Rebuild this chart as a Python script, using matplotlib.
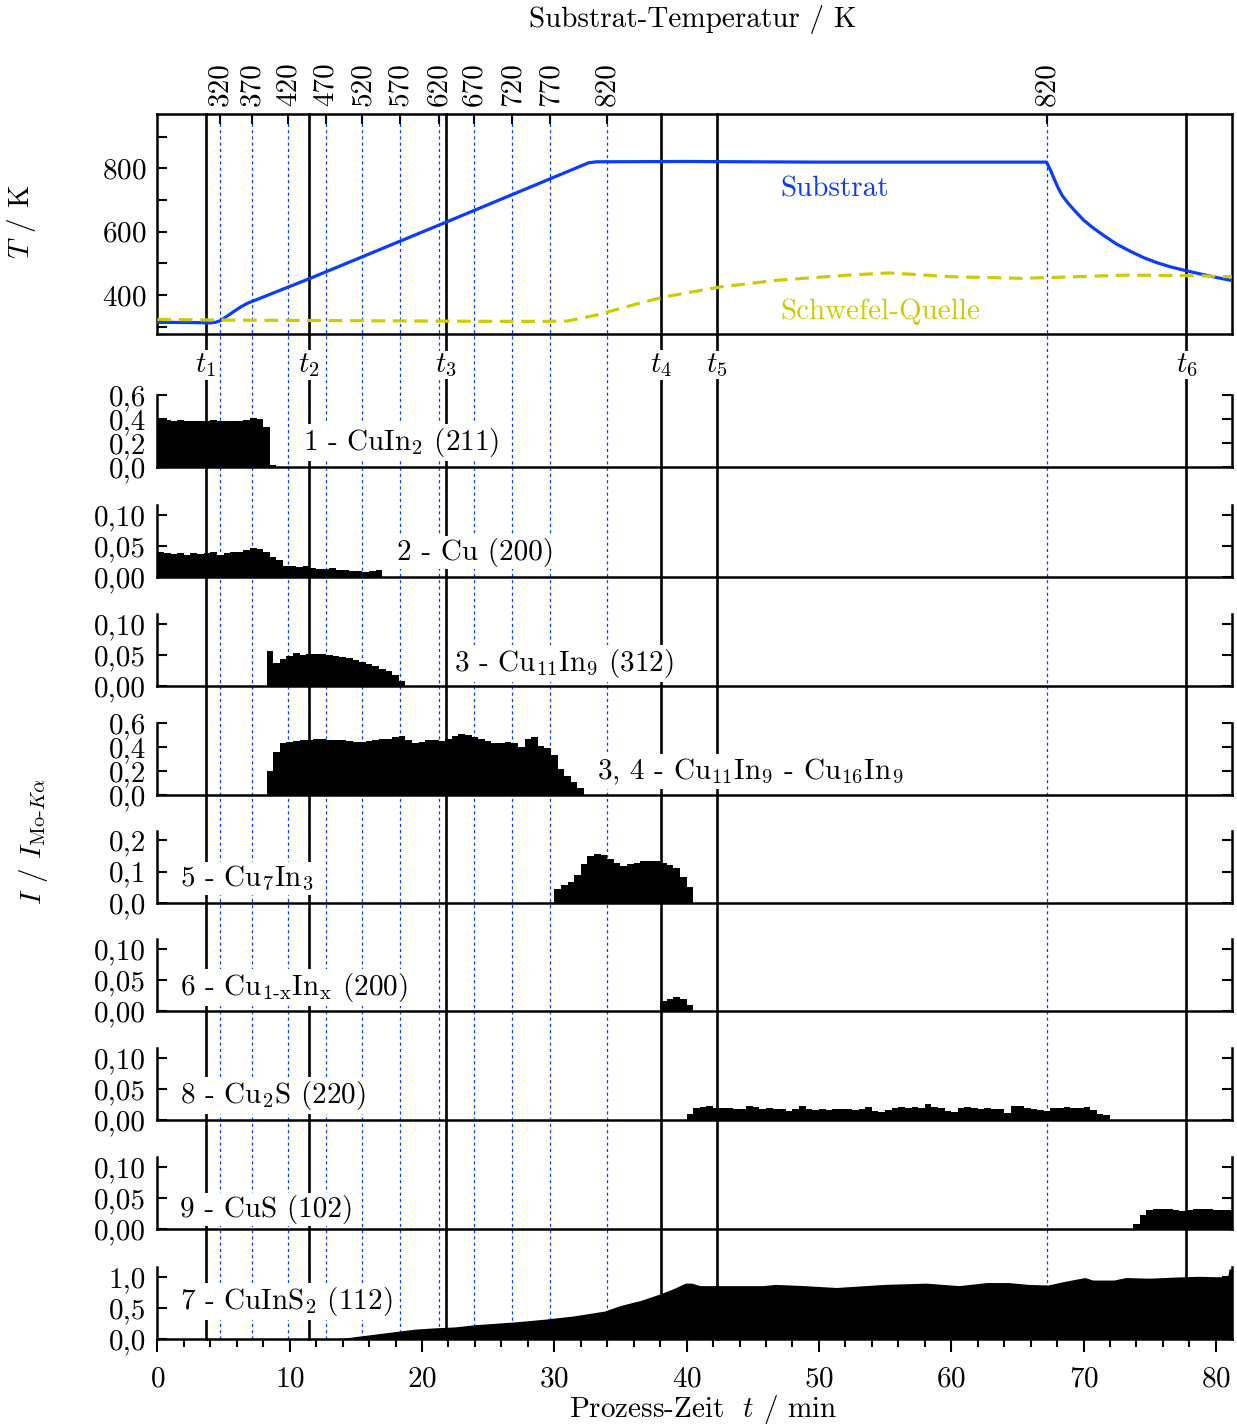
import numpy as np
import matplotlib
matplotlib.use('Agg')
import matplotlib.pyplot as plt
from matplotlib.lines import Line2D
from matplotlib.ticker import MultipleLocator
from matplotlib.transforms import blended_transform_factory

plt.rcParams['font.family'] = 'cmr10'
plt.rcParams['mathtext.fontset'] = 'cm'
plt.rcParams['axes.unicode_minus'] = False
plt.rcParams['axes.formatter.use_mathtext'] = True

# ---------------- data ----------------
# substrate temperature (min, K)
t_sub = [0, 3.0, 4.0, 4.4, 4.8, 5.5, 6.2, 6.8, 11.5, 21.8, 32.6, 33.2, 40, 50, 60, 67.2,
         67.5, 67.8, 68.1, 68.4, 68.8, 69.3, 70.0, 70.7, 71.5, 72.5, 73.5, 74.5, 75.5,
         76.5, 77.75, 79.0, 80.0, 81.2]
T_sub = [314, 313, 312, 314, 320, 340, 360, 374, 452, 630, 818, 821, 822, 820, 820, 820,
         795, 765, 737, 714, 692, 668, 637, 613, 589, 561, 539, 519, 503,
         490, 477, 465, 456, 446]
# sulphur source temperature (min, K)
t_sul = [0, 5, 10, 15, 20, 25, 29, 31, 33.2, 36.4, 38.4, 42.6, 46.9, 52.2, 55.3, 60.0,
         65.3, 68.0, 73.2, 78.5, 81.2]
T_sul = [323, 321, 320, 319, 318, 317, 317, 318, 337, 374, 395, 426, 447, 463, 470, 458,
         453, 456, 463, 461, 458]

t_events = [3.64, 11.46, 21.81, 38.07, 42.3, 77.78]
t_event_labels = ['$t_1$', '$t_2$', '$t_3$', '$t_4$', '$t_5$', '$t_6$']

temp_tick_time = [4.73, 7.17, 9.89, 12.72, 15.49, 18.33, 21.27, 23.95, 26.82, 29.7, 33.96, 67.25]
temp_tick_label = ['320', '370', '420', '470', '520', '570', '620', '670', '720', '770', '820', '820']

BIN = 0.5  # min per diffraction frame (histogram bin)

cuin2_start = 0.0
cuin2 = [0.39, 0.395, 0.385, 0.39, 0.385, 0.385, 0.38, 0.385, 0.39, 0.385, 0.38, 0.385,
         0.38, 0.39, 0.41, 0.40, 0.33, 0.02]

cu_start = 0.0
cu = [0.040, 0.038, 0.037, 0.039, 0.036, 0.038, 0.037, 0.038, 0.040, 0.036, 0.039, 0.040,
      0.041, 0.044, 0.047, 0.045, 0.040, 0.033, 0.027, 0.018, 0.017, 0.016, 0.017, 0.014,
      0.013, 0.013, 0.015, 0.012, 0.012, 0.009, 0.010, 0.008, 0.009, 0.011]

cu11in9_start = 8.25
cu11in9 = [0.057, 0.037, 0.044, 0.048, 0.053, 0.050, 0.052, 0.051, 0.052, 0.050, 0.048,
           0.047, 0.045, 0.042, 0.039, 0.036, 0.032, 0.028, 0.024, 0.017, 0.008]

cu11_16_start = 8.25
cu11_16 = [0.20, 0.36, 0.43, 0.445, 0.45, 0.455, 0.46, 0.465, 0.465, 0.46, 0.455, 0.455,
           0.45, 0.445, 0.445, 0.45, 0.455, 0.465, 0.47, 0.485, 0.49, 0.46, 0.43, 0.445,
           0.455, 0.46, 0.45, 0.47, 0.49, 0.505, 0.50, 0.48, 0.47, 0.45, 0.435, 0.435,
           0.44, 0.43, 0.40, 0.47, 0.48, 0.41, 0.39, 0.33, 0.22, 0.16, 0.11, 0.06]

cu7in3_start = 30.0
cu7in3 = [0.045, 0.058, 0.068, 0.09, 0.125, 0.15, 0.155, 0.152, 0.14, 0.127, 0.119, 0.124,
          0.128, 0.132, 0.134, 0.133, 0.127, 0.12, 0.11, 0.082, 0.05]

cu1xinx_start = 38.0
cu1xinx = [0.016, 0.019, 0.022, 0.020, 0.010]

cu2s_start = 40.0
cu2s = [0.010, 0.019, 0.021, 0.022, 0.020, 0.019, 0.020, 0.018, 0.017, 0.022, 0.021, 0.018,
        0.019, 0.017, 0.018, 0.014, 0.018, 0.023, 0.017, 0.016, 0.017, 0.016, 0.018, 0.017,
        0.018, 0.016, 0.017, 0.021, 0.015, 0.013, 0.016, 0.020, 0.021, 0.019, 0.021, 0.020,
        0.025, 0.021, 0.020, 0.015, 0.013, 0.020, 0.021, 0.020, 0.018, 0.019, 0.017, 0.018,
        0.012, 0.022, 0.023, 0.019, 0.017, 0.016, 0.015, 0.020, 0.019, 0.021, 0.020, 0.020,
        0.021, 0.016, 0.010, 0.008]

cus_start = 73.75
cus = [0.008, 0.022, 0.030, 0.032, 0.033, 0.032, 0.030, 0.029, 0.030, 0.032, 0.033, 0.032,
       0.031, 0.031, 0.030]

t_cis = [0, 13.5, 14.0, 15.0, 16.5, 18.0, 19.5, 21.0, 22.5, 24.0, 27.0, 29.3, 31.4, 32.9,
         33.8, 35.0, 36.5, 37.9, 39.0, 39.9, 40.4, 41.0, 42.7, 45.8, 46.7, 48.9, 51.3, 53.5,
         55.0, 58.1, 60.6, 62.7, 64.3, 65.8, 67.3, 68.6, 70.1, 70.7, 72.3, 73.2, 75.0, 77.2,
         78.7, 80.9, 81.0, 81.2]
v_cis = [0, 0, 0.01, 0.04, 0.08, 0.12, 0.16, 0.18, 0.195, 0.23, 0.275, 0.32, 0.37, 0.42,
         0.45, 0.54, 0.62, 0.72, 0.81, 0.90, 0.90, 0.86, 0.86, 0.86, 0.88, 0.86, 0.83, 0.86,
         0.88, 0.90, 0.86, 0.91, 0.91, 0.88, 0.87, 0.93, 0.99, 0.95, 0.95, 0.99, 0.98, 1.0,
         1.01, 1.0, 1.13, 1.13]

# ---------------- layout ----------------
FS = 21
W_PX, H_PX = 1237, 1425
X0, X1 = 157.4, 1231.7
XMAX = 81.2

def fy(px):
    return 1 - px / H_PX

fig = plt.figure(figsize=(W_PX / 100, H_PX / 100), dpi=100)
L = X0 / W_PX
Wd = (X1 - X0) / W_PX

BLUE = '#0a3cff'
YEL = '#cccc00'
LW_SP = 1.8

# top temperature panel
ax_t = fig.add_axes([L, fy(334), Wd, 220 / H_PX])
ax_t.set_facecolor('none')
ax_t.plot(t_sub, T_sub, color=BLUE, lw=2.3, zorder=3)
ax_t.plot(t_sul, T_sul, color=YEL, lw=2.3, ls=(0, (4.3, 2.4)), zorder=3)
ax_t.set_xlim(0, XMAX)
ax_t.set_ylim(277, 972)
ax_t.set_yticks([400, 600, 800])
ax_t.set_yticks([300, 500, 700, 900], minor=True)
ax_t.tick_params(axis='y', which='both', direction='in', length=7, width=1.5,
                 labelsize=FS, pad=8, right=False)
ax_t.set_xticks(temp_tick_time, temp_tick_label)
ax_t.tick_params(axis='x', bottom=False, labelbottom=False, top=True, labeltop=True,
                 direction='in', length=7, width=1.5, labelsize=FS, labelrotation=90, pad=6)
for s in ax_t.spines.values():
    s.set_linewidth(LW_SP)
ax_t.text(47.1, 712, 'Substrat', color=BLUE, fontsize=FS, ha='left', va='baseline')
ax_t.text(47.1, 325, 'Schwefel-Quelle', color=YEL, fontsize=FS, ha='left', va='baseline')

# stacked diffraction panels
panels = [
    (cuin2_start, cuin2, 0.6, [0, 0.2, 0.4, 0.6], ['0,0', '0,2', '0,4', '0,6'],
     '1 - CuIn$_2$ (211)', 11.0, 0.236, 467),
    (cu_start, cu, 0.1161, [0, 0.05, 0.10], ['0,00', '0,05', '0,10'],
     '2 - Cu (200)', 18.1, 0.236, 577),
    (cu11in9_start, cu11in9, 0.1161, [0, 0.05, 0.10], ['0,00', '0,05', '0,10'],
     '3 - Cu$_{11}$In$_9$ (312)', 22.4, 0.21, 686),
    (cu11_16_start, cu11_16, 0.6, [0, 0.2, 0.4, 0.6], ['0,0', '0,2', '0,4', '0,6'],
     '3, 4 - Cu$_{11}$In$_9$ - Cu$_{16}$In$_9$', 33.2, 0.22, 795),
    (cu7in3_start, cu7in3, 0.2286, [0, 0.1, 0.2], ['0,0', '0,1', '0,2'],
     '5 - Cu$_7$In$_3$', 1.7, 0.236, 903),
    (cu1xinx_start, cu1xinx, 0.1161, [0, 0.05, 0.10], ['0,00', '0,05', '0,10'],
     r'6 - Cu$_{1\text{-x}}$In$_\mathrm{x}$ (200)', 1.7, 0.22, 1011),
    (cu2s_start, cu2s, 0.1161, [0, 0.05, 0.10], ['0,00', '0,05', '0,10'],
     '8 - Cu$_2$S (220)', 1.7, 0.236, 1120),
    (cus_start, cus, 0.1161, [0, 0.05, 0.10], ['0,00', '0,05', '0,10'],
     '9 - CuS (102)', 1.7, 0.167, 1229),
    (None, None, 1.16, [0, 0.5, 1.0], ['0,0', '0,5', '1,0'],
     '7 - CuInS$_2$ (112)', 1.7, 0.42, 1339),
]

axes = []
for start, vals, ytop, yt, ytl, lab, lx, ly, bot in panels:
    ax = fig.add_axes([L, fy(bot), Wd, 72 / H_PX])
    ax.set_facecolor('none')
    if vals is not None:
        edges = start + BIN * np.arange(len(vals) + 1)
        ax.stairs(vals, edges, fill=True, color='black', lw=0, zorder=2)
    else:
        ax.fill_between(t_cis, v_cis, 0, color='black', lw=0, zorder=2)
    ax.set_xlim(0, XMAX)
    ax.set_ylim(0, ytop)
    ax.set_yticks(yt, ytl)
    ax.spines['top'].set_visible(False)
    for s in ['left', 'right', 'bottom']:
        ax.spines[s].set_linewidth(LW_SP)
    ax.tick_params(axis='y', direction='in', left=True, right=True, length=7, width=1.5,
                   labelsize=FS, pad=8)
    ax.tick_params(axis='x', bottom=False, labelbottom=False)
    ax.text(lx, ly, lab, fontsize=FS, ha='left', va='baseline',
            transform=blended_transform_factory(ax.transData, ax.transAxes),
            bbox=dict(fc='white', ec='none', pad=1.5), zorder=4)
    axes.append(ax)

axb = axes[-1]
axb.set_xticks(np.arange(0, 81, 10))
axb.xaxis.set_minor_locator(MultipleLocator(2))
axb.tick_params(axis='x', which='major', bottom=True, labelbottom=True, direction='out',
                length=9.5, width=1.5, labelsize=FS, pad=10)
axb.tick_params(axis='x', which='minor', bottom=True, direction='out', length=5.5, width=1.5)

# vertical guide lines through all panels
tr = blended_transform_factory(axb.transData, fig.transFigure)
for tt in temp_tick_time:
    fig.add_artist(Line2D([tt, tt], [fy(1339), fy(114)], transform=tr, color=BLUE,
                          lw=0.9, ls=(0, (2.5, 2.5)), zorder=-2))
for tt, tl in zip(t_events, t_event_labels):
    fig.add_artist(Line2D([tt, tt], [fy(1339), fy(114)], transform=tr, color='black',
                          lw=1.9, zorder=-1))
    fig.text(tt, fy(365), tl, transform=tr, fontsize=FS, ha='center', va='center',
             bbox=dict(fc='white', ec='none', pad=0.5), zorder=5)

# axis titles
fig.text(693 / W_PX, fy(20), 'Substrat-Temperatur / K', fontsize=FS, ha='center', va='center')
fig.text(703 / W_PX, fy(1410), 'Prozess-Zeit  $t$ / min', fontsize=FS, ha='center', va='center')
fig.text(22 / W_PX, fy(222), '$T$ / K', fontsize=FS, ha='center', va='center', rotation=90)
fig.text(33 / W_PX, fy(841), r'$I$ / $I_{\mathrm{Mo}\text{-}K\alpha}$', fontsize=FS,
         ha='center', va='center', rotation=90)

fig.savefig('out.png', dpi=100, facecolor='white')
